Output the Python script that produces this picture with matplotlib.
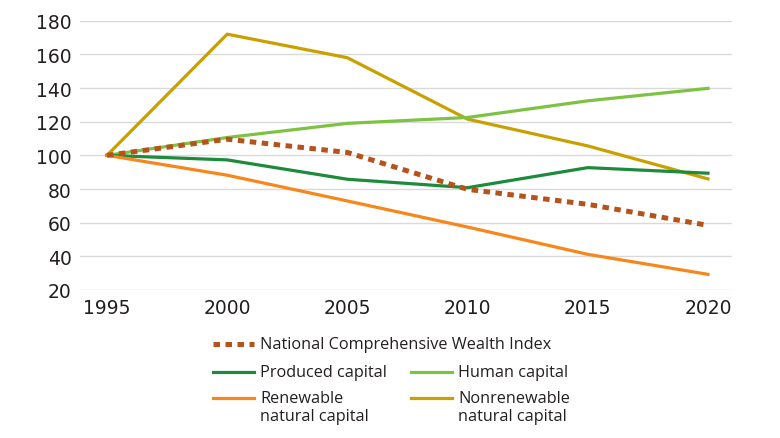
import matplotlib
matplotlib.use("Agg")
import matplotlib.pyplot as plt
from matplotlib.lines import Line2D

plt.rcParams["font.family"] = ["Open Sans", "DejaVu Sans"]

years = [1995, 2000, 2005, 2010, 2015, 2020]
ncwi = [100, 109.6, 101.7, 79.8, 70.9, 58.4]
produced = [100, 97.3, 85.8, 80.8, 92.7, 89.4]
human = [100, 110.6, 119.0, 122.5, 132.4, 139.8]
renewable = [100, 88.2, 72.9, 57.4, 41.2, 29.3]
nonrenewable = [100, 172.0, 158.0, 121.5, 105.6, 86.0]

yticks = [20, 40, 60, 80, 100, 120, 140, 160, 180]

C_NCWI = "#B5531B"
C_PROD = "#1E8A3C"
C_HUM = "#7DC242"
C_REN = "#F7861C"
C_NON = "#C9A000"
TXT = "#231F20"

W, H = 780, 439
fig = plt.figure(figsize=(W / 100, H / 100), dpi=100)
ax = fig.add_axes([80 / W, 1 - 291 / H, (732 - 80) / W, (291 - 21.7) / H])

lw = 2.3
ax.plot(years, nonrenewable, color=C_NON, lw=lw, clip_on=False, zorder=3)
ax.plot(years, human, color=C_HUM, lw=lw, clip_on=False, zorder=3)
ax.plot(years, produced, color=C_PROD, lw=lw, clip_on=False, zorder=3)
ax.plot(years, renewable, color=C_REN, lw=lw, clip_on=False, zorder=3)
ax.plot(years, ncwi, color=C_NCWI, lw=3.6, linestyle=(0, (1.3, 1.1)),
        dash_capstyle="butt", clip_on=False, zorder=4)

ax.set_xlim(1995 - 27 / 24.04, 2020 + 24 / 24.04)
ax.set_ylim(20, 180)
ax.set_xticks(years)
ax.set_yticks(yticks)
ax.grid(axis="y", color="#DADADA", lw=1.0)
ax.set_axisbelow(True)
for s in ax.spines.values():
    s.set_visible(False)
ax.tick_params(length=0, labelsize=13.5, colors=TXT, pad=6)
ax.tick_params(axis="y", pad=6)
for lab in ax.get_xticklabels() + ax.get_yticklabels():
    lab.set_family("DejaVu Sans")

# legend drawn by hand below the plot
def entry(x0, y, label, color, **kw):
    fig.add_artist(Line2D([x0 / W, (x0 + 41) / W], [1 - y / H, 1 - y / H],
                          transform=fig.transFigure, color=color, **kw))
    fig.text((x0 + 47) / W, 1 - y / H, label, fontsize=11.7, color=TXT,
             va="center", ha="left")

entry(213, 345, "National Comprehensive Wealth Index", C_NCWI, lw=3.6,
      linestyle=(0, (1.3, 1.1)), dash_capstyle="butt")
entry(213, 373, "Produced capital", C_PROD, lw=lw)
entry(411, 373, "Human capital", C_HUM, lw=lw)
fig.add_artist(Line2D([213 / W, 254 / W], [1 - 399 / H] * 2,
                      transform=fig.transFigure, color=C_REN, lw=lw))
fig.text(260 / W, 1 - 391 / H, "Renewable\nnatural capital", fontsize=11.7,
         color=TXT, va="top", ha="left", linespacing=1.15)
fig.add_artist(Line2D([411 / W, 452 / W], [1 - 399 / H] * 2,
                      transform=fig.transFigure, color=C_NON, lw=lw))
fig.text(458 / W, 1 - 391 / H, "Nonrenewable\nnatural capital", fontsize=11.7,
         color=TXT, va="top", ha="left", linespacing=1.15)

fig.savefig("out.png", dpi=100)
